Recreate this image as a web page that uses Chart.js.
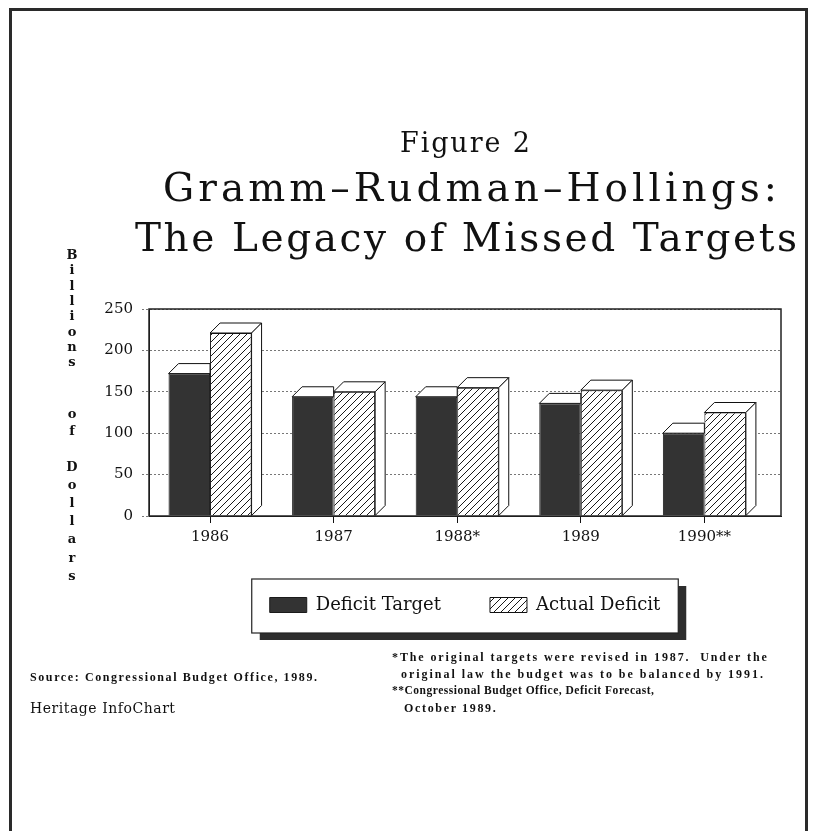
<!DOCTYPE html>
<html><head><meta charset="utf-8">
<script src="https://cdn.jsdelivr.net/npm/chart.js@4.4.1/dist/chart.umd.min.js"></script>
<style>
html,body{margin:0;padding:0;background:#fff;}
body{width:813px;height:831px;position:relative;overflow:hidden;}
#frame{position:absolute;left:9px;top:8px;width:799px;height:840px;border:3px solid #2a2a2a;border-bottom:none;box-sizing:border-box;}
canvas{position:absolute;left:0;top:0;}
.t{position:absolute;white-space:pre;line-height:1;color:#111;}
.v{position:absolute;font-family:"DejaVu Serif";font-weight:bold;font-size:13px;color:#111;text-align:center;width:20px;}
</style></head><body>
<div id="frame"></div>
<canvas id="c" width="813" height="831"></canvas>
<div id="texts"></div>
<script>
// ---- data ----
const years = ['1986', '1987', '1988*', '1989', '1990**'];
const deficitTarget = [172, 144, 144, 136, 100];
const actualDeficit = [221, 150, 155, 152, 125];
const yTicks = [0, 50, 100, 150, 200, 250];
const seriesNames = ['Deficit Target', 'Actual Deficit'];
const titleLines = ['Figure 2', 'Gramm–Rudman–Hollings:', 'The Legacy of Missed Targets'];
const yTitleWords = ['Billions', 'of', 'Dollars'];
const notes = [
  'Source: Congressional Budget Office, 1989.',
  'Heritage InfoChart',
  '*The original targets were revised in 1987.  Under the',
  'original law the budget was to be balanced by 1991.',
  '**Congressional Budget Office, Deficit Forecast,',
  'October 1989.'
];

// ---- text helpers ----
const mctx = document.createElement('canvas').getContext('2d');
function addText(str, family, size, weight, left, baseline, width) {
  const d = document.createElement('div');
  d.className = 't';
  d.textContent = str;
  d.style.fontFamily = family;
  d.style.fontSize = size + 'px';
  d.style.fontWeight = weight;
  mctx.font = weight + ' ' + size + 'px ' + family;
  const nat = mctx.measureText(str).width;
  if (width) d.style.letterSpacing = ((width - nat) / (str.length - 1)) + 'px';
  d.style.left = left + 'px';
  d.style.top = (baseline - 0.845 * size) + 'px';
  document.getElementById('texts').appendChild(d);
}
addText(titleLines[0], '"DejaVu Serif"', 27, 'normal', 400, 152, 130);
addText(titleLines[1], '"DejaVu Serif"', 39, 'normal', 163, 201, 614);
addText(titleLines[2], '"DejaVu Serif"', 39, 'normal', 135, 251, 662);

addText(notes[0], '"Liberation Serif"', 12, 'bold', 30, 681, 287);
addText(notes[1], '"DejaVu Serif"', 14, 'normal', 30, 713, 145);
addText(notes[2], '"Liberation Serif"', 12, 'bold', 392, 661, 375);
addText(notes[3], '"Liberation Serif"', 12, 'bold', 401, 678, 362);
addText(notes[4], '"Liberation Serif"', 11.5, 'bold', 392, 695, 262);
addText(notes[5], '"Liberation Serif"', 12, 'bold', 404, 712, 92);

// vertical axis title
(function(){
  const starts = [255, 414, 467];
  const steps = [15.3, 17, 18.1];
  yTitleWords.forEach((w, wi) => {
    for (let k = 0; k < w.length; k++) {
      const d = document.createElement('div');
      d.className = 'v';
      d.textContent = w[k];
      d.style.left = '62px';
      d.style.top = (starts[wi] + k * steps[wi] - 8) + 'px';
      document.getElementById('texts').appendChild(d);
    }
  });
})();

// ---- chart ----
const canvas = document.getElementById('c');
const ctx = canvas.getContext('2d');
const hatch = (() => {
  const s = 7;
  const c = document.createElement('canvas'); c.width = s; c.height = s;
  const g = c.getContext('2d');
  g.fillStyle = '#fff'; g.fillRect(0, 0, s, s);
  g.strokeStyle = '#1a1a1a'; g.lineWidth = 1;
  g.beginPath();
  g.moveTo(-1, s + 1); g.lineTo(s + 1, -1);
  g.moveTo(-1, 1); g.lineTo(1, -1);
  g.moveTo(s - 1, s + 1); g.lineTo(s + 1, s - 1);
  g.stroke();
  return ctx.createPattern(c, 'repeat');
})();

const DX = 10, DY = 10;
const bars3d = {
  id: 'bars3d',
  afterDatasetsDraw(chart) {
    const c = chart.ctx;
    const m0 = chart.getDatasetMeta(0).data, m1 = chart.getDatasetMeta(1).data;
    c.save();
    c.lineWidth = 1; c.strokeStyle = '#111'; c.fillStyle = '#fff';
    const poly = (pts) => {
      c.beginPath(); c.moveTo(pts[0][0], pts[0][1]);
      for (let i = 1; i < pts.length; i++) c.lineTo(pts[i][0], pts[i][1]);
      c.closePath(); c.fill(); c.stroke();
    };
    for (let i = 0; i < m0.length; i++) {
      const a = m0[i], b = m1[i];
      const aL = a.x - a.width / 2, aR = a.x + a.width / 2, aT = a.y;
      const bL = b.x - b.width / 2, bR = b.x + b.width / 2, bT = b.y, base = b.base;
      poly([[aL, aT], [aL + DX, aT - DY], [Math.min(aR, bL), aT - DY], [Math.min(aR, bL), aT]]);
      poly([[bL, bT], [bL + DX, bT - DY], [bR + DX, bT - DY], [bR, bT]]);
      poly([[bR, bT], [bR + DX, bT - DY], [bR + DX, base - DY], [bR, base]]);
    }
    const ca = chart.chartArea;
    c.lineWidth = 1.5; c.strokeStyle = '#222';
    c.strokeRect(ca.left, ca.top, ca.right - ca.left, ca.bottom - ca.top);
    c.restore();
  }
};
const legendBox = {
  id: 'legendBox',
  beforeDraw(chart) {
    const lg = chart.legend; const hb = lg.legendHitBoxes;
    if (!hb || !hb.length) return;
    const c = chart.ctx;
    const l = Math.min(...hb.map(h => h.left)) - 18;
    const r = Math.max(...hb.map(h => h.left + h.width)) + 18;
    const cy = hb[0].top + hb[0].height / 2;
    const t = cy - 26, b = cy + 28;
    c.save();
    c.fillStyle = '#2d2d2d'; c.fillRect(l + 8, t + 7, r - l, b - t);
    c.fillStyle = '#fff'; c.fillRect(l, t, r - l, b - t);
    c.strokeStyle = '#222'; c.lineWidth = 1.2; c.strokeRect(l, t, r - l, b - t);
    c.restore();
  }
};

new Chart(ctx, {
  type: 'bar',
  data: {
    datasets: [
      { label: seriesNames[0], data: deficitTarget.map((v, i) => ({ x: i, y: v })),
        backgroundColor: '#333333', borderColor: '#1a1a1a', borderWidth: 1,
        categoryPercentage: 0.672, barPercentage: 1 },
      { label: seriesNames[1], data: actualDeficit.map((v, i) => ({ x: i, y: v })),
        backgroundColor: hatch, borderColor: '#111', borderWidth: 1,
        categoryPercentage: 0.672, barPercentage: 1 }
    ]
  },
  options: {
    responsive: false, animation: false, events: [],
    layout: { padding: { left: 90, top: 309, right: 32, bottom: 207 } },
    scales: {
      x: {
        type: 'linear', min: -0.494, max: 4.62, offset: false,
        afterBuildTicks: s => { s.ticks = years.map((_, i) => ({ value: i })); },
        afterFit: s => { s.height = 31; },
        ticks: { callback: v => years[v] ?? '', font: { family: 'DejaVu Serif', size: 15 }, color: '#111', padding: 5, maxRotation: 0, autoSkip: false },
        grid: { offset: false, drawOnChartArea: false, drawTicks: true, tickLength: 7, color: '#111' },
        border: { display: true, color: '#111', width: 1 }
      },
      y: {
        min: 0, max: 250,
        afterBuildTicks: s => { s.ticks = yTicks.map(v => ({ value: v })); },
        afterFit: s => { s.width = 59; },
        ticks: { font: { family: 'DejaVu Serif', size: 15 }, color: '#111', padding: 9 },
        grid: { color: '#777', lineWidth: 1, tickLength: 7, tickBorderDash: [2, 2] },
        border: { display: true, color: '#111', width: 1, dash: [2, 2] }
      }
    },
    plugins: {
      legend: {
        position: 'bottom', fullSize: false,
        labels: { boxWidth: 37, boxHeight: 15, padding: 49, color: '#111',
                  font: { family: 'DejaVu Serif', size: 18 } }
      },
      tooltip: { enabled: false }
    }
  },
  plugins: [legendBox, bars3d]
});
</script>
</body></html>
